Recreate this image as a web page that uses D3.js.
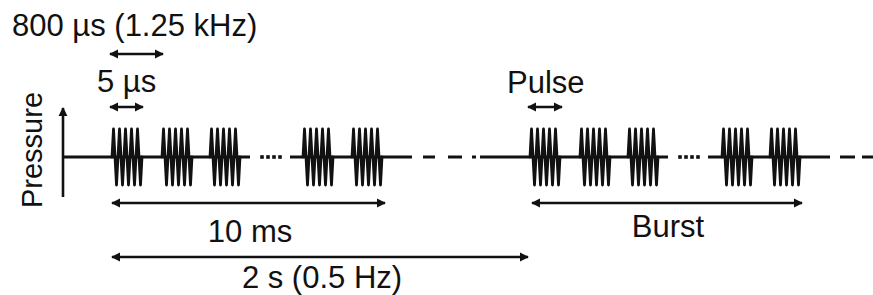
<!DOCTYPE html>
<html>
<head>
<meta charset="utf-8">
<script src="https://cdn.jsdelivr.net/npm/d3@7"></script>
<style>
  body { margin: 0; background: #fff; }
  svg text { font-family: "Liberation Sans", Arial, sans-serif; fill: #111; }
</style>
</head>
<body>
<svg id="chart" width="873" height="295"></svg>
<script>
// schematic time units, 0 = pressure axis
const pulseOnsets = [49, 99, 147, 240, 289, 467, 517, 565, 659, 707];
const pulseLength = 30;
const traceRuns = [[0, 187], [227, 349], [417, 605], [645, 767]];
const dashRuns = [[360, 372], [385, 399], [409, 413], [777, 792], [799, 812]];
const ellipsisDots = [199, 205, 211, 217, 617, 623, 629, 635];
const spans = [
  { from: 47, to: 100, label: '800 µs (1.25 kHz)' },
  { from: 47, to: 80, label: '5 µs' },
  { from: 465, to: 499, label: 'Pulse' },
  { from: 49, to: 322, label: '10 ms' },
  { from: 469, to: 739, label: 'Burst' },
  { from: 49, to: 465, label: '2 s (0.5 Hz)' }
];

const svg = d3.select('#chart');
const x = d3.scaleLinear().domain([0, 810]).range([63, 873]);
const y = d3.scaleLinear().domain([-1, 1]).range([185, 129]);
const base = y(0);

// marker for arrows
const defs = svg.append('defs');
defs.append('marker')
  .attr('id', 'head')
  .attr('viewBox', '0 0 10 10')
  .attr('refX', 9).attr('refY', 5)
  .attr('markerWidth', 3.6).attr('markerHeight', 3.6)
  .attr('markerUnits', 'strokeWidth')
  .attr('orient', 'auto-start-reverse')
  .append('path').attr('d', 'M0,0 L10,5 L0,10 Z').attr('fill', '#111');

// pressure axis
svg.append('line')
  .attr('x1', x(0)).attr('x2', x(0))
  .attr('y1', 197).attr('y2', 108)
  .attr('stroke', '#111').attr('stroke-width', 2.6)
  .attr('marker-end', 'url(#head)');

svg.append('text')
  .attr('transform', `translate(42,150) rotate(-90)`)
  .attr('text-anchor', 'middle')
  .attr('font-size', 29)
  .text('Pressure');

// baseline runs
svg.selectAll('.run')
  .data(traceRuns)
  .enter().append('line')
  .attr('class', 'run')
  .attr('x1', d => x(d[0])).attr('x2', d => x(d[1]))
  .attr('y1', base).attr('y2', base)
  .attr('stroke', '#111').attr('stroke-width', 3);

svg.selectAll('.dash')
  .data(dashRuns)
  .enter().append('line')
  .attr('class', 'dash')
  .attr('x1', d => x(d[0])).attr('x2', d => x(d[1]))
  .attr('y1', base).attr('y2', base)
  .attr('stroke', '#111').attr('stroke-width', 3);

svg.selectAll('.dot')
  .data(ellipsisDots)
  .enter().append('rect')
  .attr('class', 'dot')
  .attr('x', d => x(d) - 1.8).attr('y', base - 1.8)
  .attr('width', 3.6).attr('height', 3.6)
  .attr('fill', '#111');

// pulses: zigzag glyph
const zig = [[0, 0]];
for (let k = 0; k < 10; k++) zig.push([(1.5 + 3 * k) / 30, k % 2 === 0 ? 1 : -1]);
zig.push([1, 0]);

const line = d3.line();
svg.selectAll('.pulse')
  .data(pulseOnsets)
  .enter().append('path')
  .attr('class', 'pulse')
  .attr('d', t => line(zig.map(p => [x(t + p[0] * pulseLength), y(p[1])])))
  .attr('fill', 'none')
  .attr('stroke', '#111')
  .attr('stroke-width', 2.8)
  .attr('stroke-linejoin', 'round')
  .attr('stroke-linecap', 'round');

// annotation arrows
const arrowY = [54, 107, 107, 203, 203, 257];
svg.selectAll('.span')
  .data(spans)
  .enter().append('line')
  .attr('class', 'span')
  .attr('x1', d => x(d.from)).attr('x2', d => x(d.to))
  .attr('y1', (d, i) => arrowY[i]).attr('y2', (d, i) => arrowY[i])
  .attr('stroke', '#111').attr('stroke-width', 2.6)
  .attr('marker-start', 'url(#head)')
  .attr('marker-end', 'url(#head)');

const labelPos = [
  { x: 12, y: 36, anchor: 'start' },
  { x: 97, y: 92, anchor: 'start' },
  { x: 507, y: 93, anchor: 'start' },
  { x: 250, y: 242, anchor: 'middle' },
  { x: 668, y: 237, anchor: 'middle' },
  { x: 322, y: 288, anchor: 'middle' }
];
svg.selectAll('.lbl')
  .data(spans)
  .enter().append('text')
  .attr('class', 'lbl')
  .attr('x', (d, i) => labelPos[i].x)
  .attr('y', (d, i) => labelPos[i].y)
  .attr('text-anchor', (d, i) => labelPos[i].anchor)
  .attr('font-size', 31)
  .text(d => d.label);
</script>
</body>
</html>
